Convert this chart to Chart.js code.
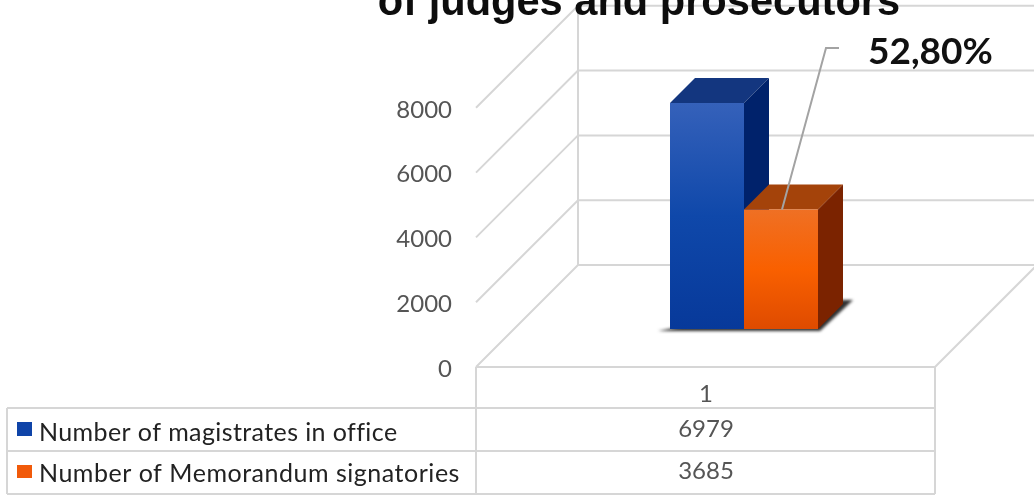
<!DOCTYPE html>
<html>
<head>
<meta charset="utf-8">
<title>Magistrates chart</title>
<style>
  html, body { margin: 0; padding: 0; background: #fff; overflow: hidden; }
  canvas { display: block; }
</style>
<script src="https://cdn.jsdelivr.net/npm/chart.js@4/dist/chart.umd.js"></script>
</head>
<body>
<canvas id="chart" width="1034" height="496"></canvas>
<script>
const titleText = "of judges and prosecutors";
const calloutText = "52,80%";
const categories = ["1"];
const seriesNames = ["Number of magistrates in office", "Number of Memorandum signatories"];
const magistrates = [6979];
const signatories = [3685];
const tickValues = [0, 2000, 4000, 6000, 8000];

// layout of the fake 3D box, in px
const AREA_TOP = 0, AREA_BOTTOM = 380;
const PX_PER_UNIT = 0.0324;
const FLOOR_Y = 367;      // value 0 on the front plane, where the tick labels sit
const BAR_BASE_Y = 329;   // value 0 on the plane of the bars
const WALL_DEPTH = 102, BAR_DEPTH = 25;
const FRONT_LEFT = 476, FRONT_RIGHT = 935;
const TABLE_LEFT = 7, ROW_Y = [408, 451, 494];
const GRID = "#d6d6d6";

const minFor = y => (y - AREA_BOTTOM) / PX_PER_UNIT;
const maxFor = y => (y - AREA_TOP) / PX_PER_UNIT;

function frontGradient(stops) {
  return ctx => {
    const chart = ctx.chart;
    if (!chart.chartArea) return stops[1];
    const top = chart.scales.y.getPixelForValue(ctx.raw);
    const g = chart.ctx.createLinearGradient(0, top, 0, BAR_BASE_Y);
    g.addColorStop(0, stops[0]);
    g.addColorStop(0.5, stops[1]);
    g.addColorStop(1, stops[2]);
    return g;
  };
}

function line(c, pts, color, width) {
  c.beginPath();
  pts.forEach((p, i) => i ? c.lineTo(p[0], p[1]) : c.moveTo(p[0], p[1]));
  c.strokeStyle = color;
  c.lineWidth = width;
  c.stroke();
}

function poly(c, pts, color) {
  c.beginPath();
  pts.forEach((p, i) => i ? c.lineTo(p[0], p[1]) : c.moveTo(p[0], p[1]));
  c.closePath();
  c.fillStyle = color;
  c.fill();
}

const boxPlugin = {
  id: "box3d",
  beforeDatasetsDraw(chart) {
    const c = chart.ctx;
    const ts = chart.scales.yTicks;
    c.save();

    // walls
    tickValues.forEach(v => {
      const y = ts.getPixelForValue(v);
      line(c, [[FRONT_LEFT, y], [FRONT_LEFT + WALL_DEPTH, y - WALL_DEPTH], [1034, y - WALL_DEPTH]], GRID, 2);
    });
    line(c, [[FRONT_LEFT + WALL_DEPTH, ts.getPixelForValue(8000) - WALL_DEPTH], [FRONT_LEFT + WALL_DEPTH, FLOOR_Y - WALL_DEPTH]], GRID, 2);
    line(c, [[FRONT_RIGHT, FLOOR_Y], [FRONT_RIGHT + WALL_DEPTH, FLOOR_Y - WALL_DEPTH]], GRID, 2);

    // shadow and the side/top faces of the bars
    const blue = chart.getDatasetMeta(0).data[0];
    const orange = chart.getDatasetMeta(1).data[0];
    const left = blue.x - blue.width / 2;
    const right = orange.x + orange.width / 2;
    c.save();
    c.filter = "blur(1.5px)";
    poly(c, [[left - 12, BAR_BASE_Y + 2], [right + 2, BAR_BASE_Y + 2], [right + 35, BAR_BASE_Y - 29], [right, BAR_BASE_Y - 29]], "rgba(25,25,25,0.9)");
    c.restore();

    const faces = [
      [blue, "#13367f", "#00226b"],
      [orange, "#a4430a", "#7b2300"]
    ];
    faces.forEach(([bar, topColor, sideColor]) => {
      const l = bar.x - bar.width / 2, r = bar.x + bar.width / 2;
      poly(c, [[l, bar.y], [l + BAR_DEPTH, bar.y - BAR_DEPTH], [r + BAR_DEPTH, bar.y - BAR_DEPTH], [r, bar.y]], topColor);
      poly(c, [[r, bar.y], [r + BAR_DEPTH, bar.y - BAR_DEPTH], [r + BAR_DEPTH, bar.base - BAR_DEPTH], [r, bar.base]], sideColor);
    });
    c.restore();
  },
  afterDraw(chart) {
    const c = chart.ctx;
    c.save();

    // data table
    line(c, [[FRONT_LEFT, FLOOR_Y], [FRONT_RIGHT, FLOOR_Y]], GRID, 2);
    line(c, [[FRONT_LEFT, FLOOR_Y], [FRONT_LEFT, ROW_Y[2]]], GRID, 2);
    line(c, [[FRONT_RIGHT, FLOOR_Y], [FRONT_RIGHT, ROW_Y[2]]], GRID, 2);
    line(c, [[TABLE_LEFT, ROW_Y[0]], [TABLE_LEFT, ROW_Y[2]]], GRID, 2);
    ROW_Y.forEach(y => line(c, [[TABLE_LEFT, y], [FRONT_RIGHT, y]], GRID, 2));

    c.textBaseline = "alphabetic";
    c.font = "24px Lato";
    c.fillStyle = "#555";
    c.textAlign = "center";
    c.fillText(categories[0], 706, 402);
    c.fillText(String(magistrates[0]), 706, 437);
    c.fillText(String(signatories[0]), 706, 479);

    poly(c, [[17, 422], [32, 422], [32, 436], [17, 436]], "#0f44a8");
    poly(c, [[17, 465], [32, 465], [32, 478], [17, 478]], "#f15a0a");
    c.textAlign = "left";
    c.fillStyle = "#222";
    c.font = "25px Lato";
    c.letterSpacing = "0.4px";
    c.fillText(seriesNames[0], 39, 441);
    c.letterSpacing = "0.52px";
    c.fillText(seriesNames[1], 39, 482);
    c.letterSpacing = "0px";

    // callout
    const orange = chart.getDatasetMeta(1).data[0];
    line(c, [[orange.x + 1, orange.y], [826, 48], [839, 48]], "#a3a3a3", 2);
    c.fillStyle = "#111";
    c.font = "bold 37px Lato";
    c.fillText(calloutText, 868, 64);

    // title, cut off by the top of the picture
    c.font = "bold 41.6px 'Liberation Sans'";
    c.textAlign = "center";
    c.fillStyle = "#0d0d0d";
    c.fillText(titleText, 639, 15);
    c.restore();
  }
};

new Chart(document.getElementById("chart"), {
  type: "bar",
  data: {
    labels: categories,
    datasets: [
      {
        label: seriesNames[0],
        data: magistrates,
        backgroundColor: frontGradient(["#3561ba", "#0f48aa", "#07399a"]),
        borderWidth: 0
      },
      {
        label: seriesNames[1],
        data: signatories,
        backgroundColor: frontGradient(["#ef7024", "#f96000", "#df4b00"]),
        borderWidth: 0
      }
    ]
  },
  options: {
    responsive: false,
    animation: false,
    layout: { padding: { left: 0, right: 99, top: AREA_TOP, bottom: 496 - AREA_BOTTOM } },
    datasets: { bar: { categoryPercentage: 148 / 382, barPercentage: 1 } },
    plugins: {
      legend: { display: false },
      title: { display: false },
      tooltip: { enabled: false }
    },
    scales: {
      x: { display: false },
      // plane of the bars
      y: {
        display: false,
        min: minFor(BAR_BASE_Y),
        max: maxFor(BAR_BASE_Y)
      },
      // front plane, only used for the tick labels and the walls
      yTicks: {
        position: "left",
        min: minFor(FLOOR_Y),
        max: maxFor(FLOOR_Y),
        afterBuildTicks: scale => { scale.ticks = tickValues.map(v => ({ value: v })); },
        afterFit: scale => {
          // the big tick padding would otherwise eat the top of the chart area
          scale.width = 553;
          scale.paddingTop = 0;
          scale.paddingBottom = 0;
        },
        grid: { display: false },
        border: { display: false },
        ticks: {
          autoSkip: false,
          padding: 93,
          labelOffset: 2,
          color: "#555",
          font: { family: "Lato", size: 24 },
          callback: v => String(v)
        }
      }
    }
  },
  plugins: [boxPlugin]
});
</script>
</body>
</html>
